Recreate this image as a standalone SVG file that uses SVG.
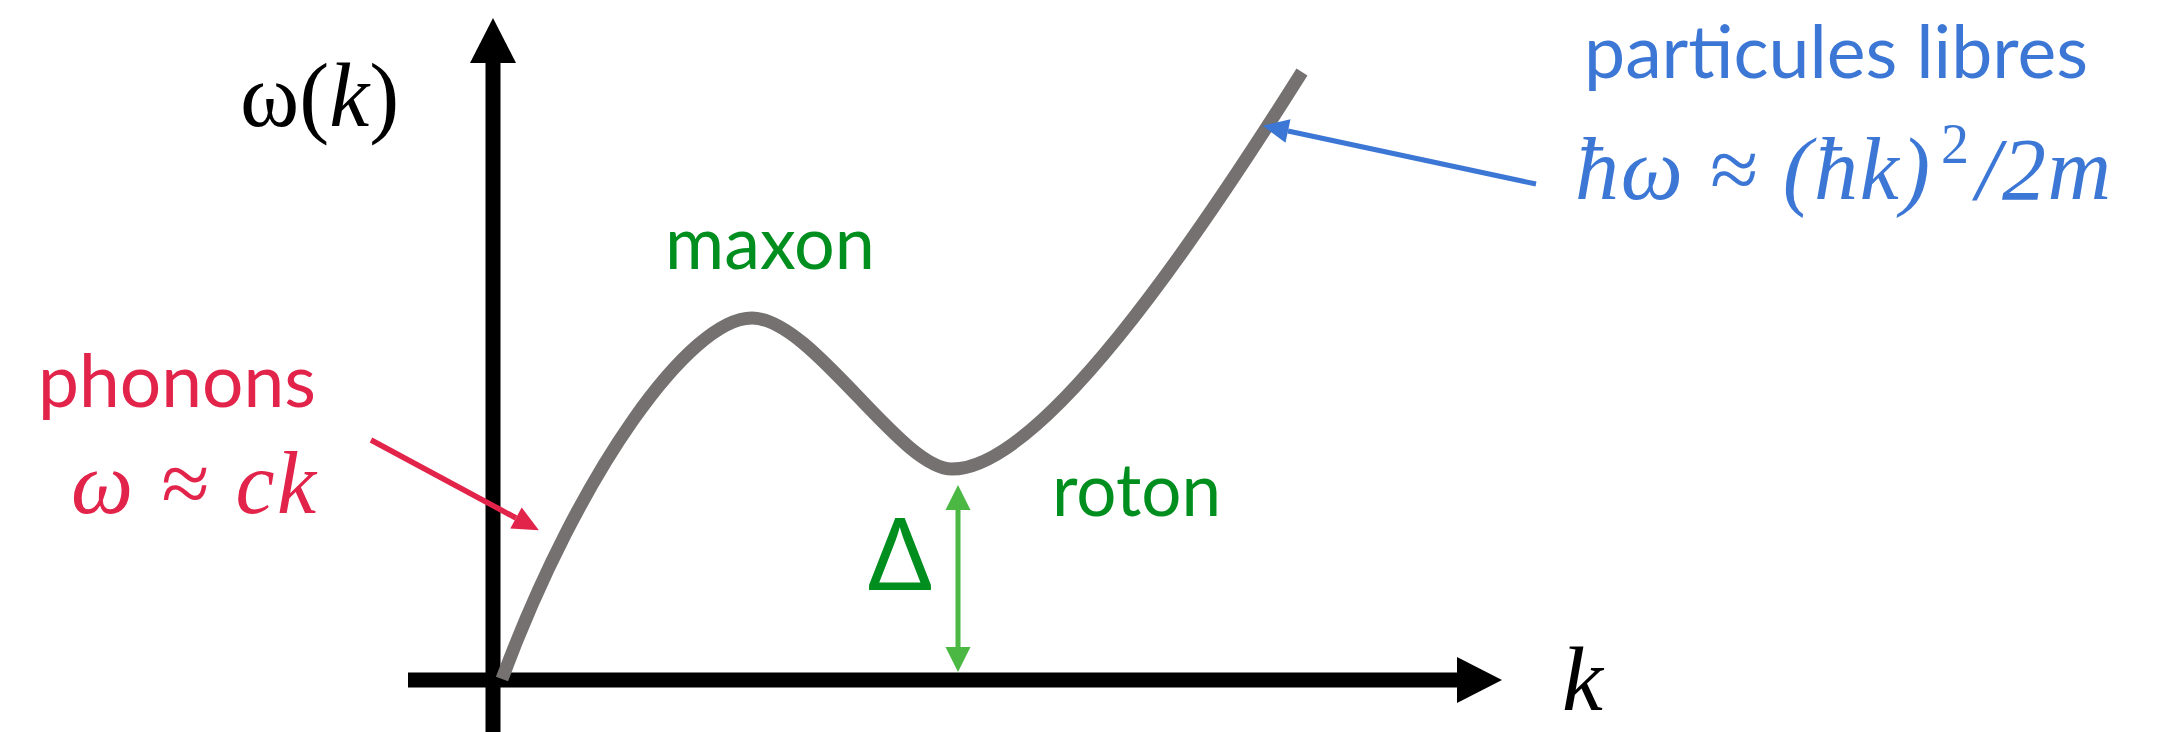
<svg xmlns="http://www.w3.org/2000/svg" width="2172" height="732" viewBox="0 0 2172 732">
<style>
.lbl{font-family:Lato,"Open Sans","Liberation Sans",sans-serif;font-size:74px}
.math{font-family:"Liberation Serif","DejaVu Serif",serif}
.it{font-style:italic}
.red{fill:#E2234A}.blue{fill:#3C77D5}.green{fill:#008F1F}
</style>
<defs>
<marker id="axisHead" markerUnits="userSpaceOnUse" markerWidth="46" markerHeight="46" refX="0" refY="23" orient="auto" overflow="visible"><path d="M0,0 L45,23 L0,46 Z" fill="#000"/></marker>
<marker id="redHead" markerUnits="userSpaceOnUse" markerWidth="26" markerHeight="24" refX="0" refY="12" orient="auto" overflow="visible"><path d="M0,0 L26,12 L0,24 Z" fill="#E2234A"/></marker>
<marker id="blueHead" markerUnits="userSpaceOnUse" markerWidth="26" markerHeight="24" refX="0" refY="12" orient="auto" overflow="visible"><path d="M0,0 L26,12 L0,24 Z" fill="#3C77D5"/></marker>
<marker id="greenHead" markerUnits="userSpaceOnUse" markerWidth="25" markerHeight="25" refX="0" refY="12.5" orient="auto-start-reverse" overflow="visible"><path d="M0,0 L25,12.5 L0,25 Z" fill="#4AB842"/></marker>
</defs>
<rect width="2172" height="732" fill="#fff"/>
<g id="axes">
<line x1="493" y1="732" x2="493" y2="63" stroke="#000" stroke-width="15" marker-end="url(#axisHead)"/>
<line x1="408" y1="680" x2="1457" y2="680" stroke="#000" stroke-width="15" marker-end="url(#axisHead)"/>
</g>
<g id="curve">
<path d="M502,679 C580,470 690,318 752,318 C812,318 900,469 952,469 C1040,469 1190,250 1302,72" fill="none" stroke="#757171" stroke-width="13" stroke-linecap="butt"/>
</g>
<g id="connectors">
<line x1="371" y1="440" x2="516" y2="518" stroke="#E2234A" stroke-width="5.5" marker-end="url(#redHead)"/>
<line x1="1536" y1="184" x2="1288" y2="131" stroke="#3C77D5" stroke-width="5" marker-end="url(#blueHead)"/>
<line x1="958" y1="510" x2="958" y2="647" stroke="#4AB842" stroke-width="5" marker-start="url(#greenHead)" marker-end="url(#greenHead)"/>
</g>
<g id="axis-y-label"><text class="math" x="240" y="126" font-size="90">ω(<tspan class="it">k</tspan>)</text></g>
<g id="axis-x-label"><text class="math it" x="1562" y="710" font-size="92">k</text></g>
<g id="phonons">
<text class="lbl red" x="38" y="407" textLength="278" lengthAdjust="spacingAndGlyphs">phonons</text>
<text class="math it red" x="71" y="513" font-size="88" textLength="245" lengthAdjust="spacing">ω ≈ ck</text>
</g>
<g id="maxon"><text class="lbl green" x="665" y="269" textLength="210" lengthAdjust="spacingAndGlyphs">maxon</text></g>
<g id="roton"><text class="lbl green" x="1052" y="516" textLength="169" lengthAdjust="spacingAndGlyphs">roton</text></g>
<g id="gap"><text x="867" y="590" font-family="'Open Sans','Noto Sans',sans-serif" font-size="101" class="green" textLength="66" lengthAdjust="spacingAndGlyphs">Δ</text></g>
<g id="libres">
<text class="lbl blue" x="1584" y="78" textLength="504" lengthAdjust="spacingAndGlyphs">particules libres</text>
<text class="math it blue" x="1575" y="199" font-size="88" textLength="355" lengthAdjust="spacing">ħω ≈ (ħk)</text>
<text class="math blue" x="1941" y="163" font-size="56">2</text>
<text class="math it blue" x="1976" y="199" font-size="88" textLength="135" lengthAdjust="spacing">/2m</text>
</g>
</svg>
